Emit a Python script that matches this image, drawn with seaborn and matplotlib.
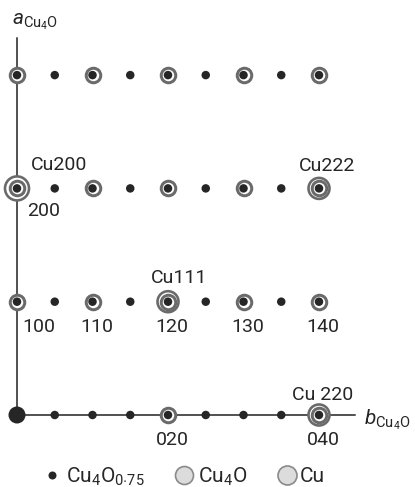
import numpy as np
import pandas as pd
import matplotlib.pyplot as plt
import seaborn as sns
from matplotlib.lines import Line2D

# reciprocal lattice positions: k along b*(Cu4O), h along a*(Cu4O)
# spots that belong only to the Cu4O0.75 superstructure (plain dots)
super_k = [0.5, 1.5, 2.5, 3.5, 0.5, 1.5, 2.5, 3.5, 0.5, 1.5, 2.5, 3.5,
           0.5, 1.0, 1.5, 2.5, 3.0, 3.5]
super_h = [3, 3, 3, 3, 2, 2, 2, 2, 1, 1, 1, 1,
           0, 0, 0, 0, 0, 0]

# spots shared with Cu4O (dot inside a ring)
cu4o_k = [0, 1, 2, 3, 4, 0, 1, 2, 3, 4, 0, 1, 2, 3, 4, 2, 4]
cu4o_h = [3, 3, 3, 3, 3, 2, 2, 2, 2, 2, 1, 1, 1, 1, 1, 0, 0]

# spots that also coincide with Cu reflections (extra outer ring)
cu_k = [0, 4, 2, 4]
cu_h = [2, 2, 1, 0]
cu_names = ['Cu200', 'Cu222', 'Cu111', 'Cu 220']

# Cu4O indices written under the spots
idx_names = ['100', '110', '120', '130', '140', '200', '020', '040']
idx_k = [0, 1, 2, 3, 4, 0, 2, 4]
idx_h = [1, 1, 1, 1, 1, 2, 0, 0]

legend_names = [r'Cu$_4$O$_{0{\cdot}75}$', r'Cu$_4$O', 'Cu']

sns.set_style('white')
plt.rcParams['font.family'] = ['Roboto', 'DejaVu Sans']
plt.rcParams['mathtext.fontset'] = 'custom'
plt.rcParams['mathtext.rm'] = 'Roboto'
plt.rcParams['mathtext.it'] = 'Roboto:italic'

ink = '#262626'
ring = '#6a6a6a'
PX = 0.72  # points per pixel at dpi 100

fig = plt.figure(figsize=(4.15, 4.87), dpi=100)
ax = fig.add_axes([0, 0, 1, 1])
ax.set_xlim(-17 / 75.5, 398 / 75.5)
ax.set_ylim(-72 / 113.3, 415 / 113.3)
ax.axis('off')

# reciprocal axes
ax.plot([0, 0], [0, 3.33], color='#555555', lw=2 * PX, zorder=1)
ax.plot([0, 4.48], [0, 0], color='#555555', lw=2 * PX, zorder=1)

# Cu rings (outer) then Cu4O rings, both white-filled
cu_ring_px = {'Cu200': 24}
cu_sizes = [(cu_ring_px.get(n, 21) * PX) ** 2 for n in cu_names]
ax.scatter(cu_k, cu_h, s=cu_sizes, facecolor='white', edgecolor=ring,
           linewidth=2.6 * PX, zorder=2)
ax.scatter(cu4o_k, cu4o_h, s=(14.5 * PX) ** 2, facecolor='white', edgecolor=ring,
           linewidth=3 * PX, zorder=3)

# dots
dots = pd.DataFrame({'k': super_k + cu4o_k, 'h': super_h + cu4o_h})
sns.scatterplot(data=dots, x='k', y='h', ax=ax, color=ink, s=(8.5 * PX) ** 2,
                edgecolor='none', zorder=4, legend=False)
ax.scatter([0], [0], s=(17 * PX) ** 2, color=ink, edgecolor='none', zorder=4)
ax.set_xlabel('')
ax.set_ylabel('')

lab = dict(fontsize=14, color=ink, ha='center', va='center')

# index labels below the spots (offsets in pixels)
idx_off = {'100': (22, -25), '200': (27, -23)}
for name, k, h in zip(idx_names, idx_k, idx_h):
    dx, dy = idx_off.get(name, (4, -25))
    ax.annotate(name, (k, h), xytext=(dx * PX, dy * PX), textcoords='offset points', **lab)

cu_off = {'Cu200': (42, 23), 'Cu222': (8, 22), 'Cu111': (11, 24), 'Cu 220': (4, 20)}
for name, k, h in zip(cu_names, cu_k, cu_h):
    dx, dy = cu_off[name]
    ax.annotate(name, (k, h), xytext=(dx * PX, dy * PX), textcoords='offset points', **lab)

# axis names
ax.text(-0.06, 3.47, r'$a_{\mathrm{Cu_4O}}$', fontsize=15, color=ink,
        ha='left', va='center')
ax.text(4.6, -0.04, r'$b_{\mathrm{Cu_4O}}$', fontsize=15, color=ink,
        ha='left', va='center')

# key
handles = [
    Line2D([], [], ls='none', marker='o', ms=8 * PX, color=ink, mec='none'),
    Line2D([], [], ls='none', marker='o', ms=18 * PX, mfc='#dcdcdc', mec='#8a8a8a', mew=1.2),
    Line2D([], [], ls='none', marker='o', ms=19 * PX, mfc='#dcdcdc', mec='#8a8a8a', mew=1.2),
]
ax.legend(handles, legend_names, loc='lower center', bbox_to_anchor=(0.445, -0.04),
          ncol=3, frameon=False, handletextpad=0.25, columnspacing=1.5,
          handlelength=0.8, labelcolor=ink, prop={'size': 15})

fig.savefig('out.png', dpi=100)
